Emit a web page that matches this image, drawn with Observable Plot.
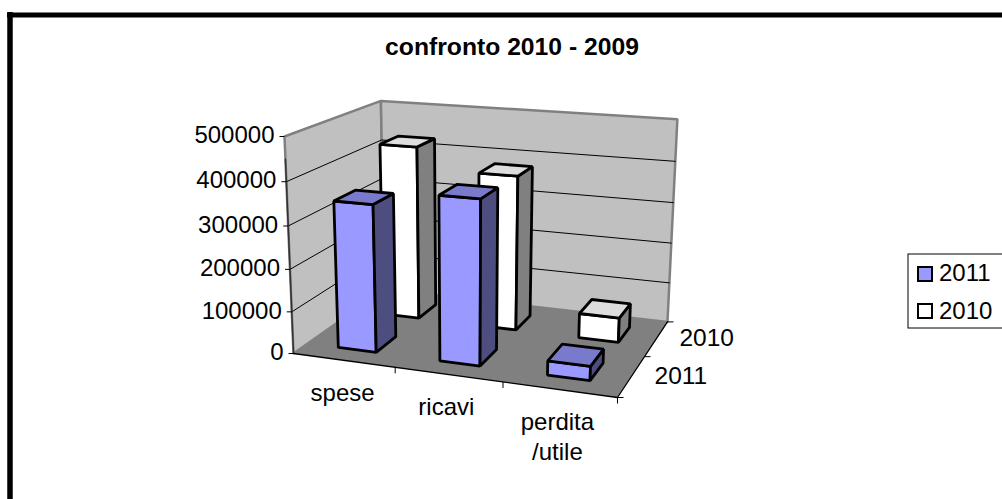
<!DOCTYPE html>
<html><head><meta charset="utf-8">
<script src="https://cdn.jsdelivr.net/npm/d3@7"></script>
<script src="https://cdn.jsdelivr.net/npm/@observablehq/plot@0.6"></script>
<style>html,body{margin:0;padding:0;background:#fff}svg{display:block}</style>
</head><body><div id="chart"></div>
<script>
const title = "confronto 2010 - 2009";
const categories = ["spese", "ricavi", "perdita\n/utile"];
const series = ["2011", "2010"];
const values2011 = [347000, 381000, 33000];
const values2010 = [428000, 377000, 60000];
const valueTicks = [0, 100000, 200000, 300000, 400000, 500000];
const valueMax = 500000;

// Oblique camera: (u,v,w) in 0..1 → page position
const O=[293,353],U=[617,397],V=[384,289],W=[284,136];
const p=-0.085,q=0.16,r=-0.05;
function cam(u,v,w){
  const d=1+p*u+q*v+r*w;
  const f=k=>(O[k]+u*(U[k]*(1+p)-O[k])+v*(V[k]*(1+q)-O[k])+w*(W[k]*(1+r)-O[k]))/d;
  return {x:f(0),y:f(1)};
}
const poly=(pts)=>pts.map(a=>cam(...a));
const face=(pts,o)=>Plot.line(poly(pts),{x:"x",y:"y",curve:"linear-closed",strokeLinejoin:"miter",...o});
const FONT="Liberation Sans";

const marks=[];
// frame
marks.push(Plot.ruleX([9.5],{y1:12,y2:499,stroke:"#000",strokeWidth:5.5}));
marks.push(Plot.ruleY([14.5],{x1:7,x2:1002,stroke:"#000",strokeWidth:5}));
// walls & floor
const wall={fill:"#c0c0c0",stroke:"#808080",strokeWidth:2.5};
marks.push(face([[0,0,0],[0,1,0],[0,1,1],[0,0,1]],wall));
marks.push(face([[0,1,0],[1,1,0],[1,1,1],[0,1,1]],wall));
for(const t of valueTicks.slice(1,-1)){
  const w=t/valueMax;
  marks.push(Plot.line(poly([[0,0,w],[0,1,w],[1,1,w]]),{x:"x",y:"y",stroke:"#000",strokeWidth:1}));
}
marks.push(face([[0,0,0],[1,0,0],[1,1,0],[0,1,0]],{fill:"#808080"}));
// axes
marks.push(Plot.line(poly([[0,0,0],[0,0,.9]]),{x:"x",y:"y",stroke:"#333",strokeWidth:1.5}));
marks.push(Plot.line(poly([[0,0,0],[1,0,0],[1,1,0]]),{x:"x",y:"y",stroke:"#000",strokeWidth:1.3}));
const vt=valueTicks.map(t=>({t,...cam(0,0,t/valueMax)}));
marks.push(Plot.link(vt,{x1:"x",y1:"y",x2:d=>d.x-5,y2:"y",stroke:"#000",strokeWidth:1}));
marks.push(Plot.text(vt,{x:d=>d.x-10,y:d=>d.y-1,text:d=>String(d.t),textAnchor:"end",fontSize:24,fontFamily:FONT,fill:"#000"}));
const ct=categories.map((c,i)=>cam((i+1)/3,0,0));
marks.push(Plot.link(ct,{x1:"x",y1:"y",x2:"x",y2:d=>d.y+6,stroke:"#000",strokeWidth:1}));
const dt=[0,.5,1].map(v=>cam(1,v,0));
marks.push(Plot.link(dt,{x1:"x",y1:"y",x2:d=>d.x+6,y2:"y",stroke:"#000",strokeWidth:1}));
// bars
const BW=.38,BD=.44;
const colors=[{f:"#9999ff",t:"#7a7acc",s:"#4d4d80"},{f:"#ffffff",t:"#dddddd",s:"#808080"}];
const rows=[values2011,values2010];
[1,0].forEach(row=>{
  rows[row].forEach((val,i)=>{
    const u0=(i+.5-BW/2)/3,u1=(i+.5+BW/2)/3,v0=(row+.5-BD/2)/2,v1=(row+.5+BD/2)/2,w=val/valueMax;
    const st={stroke:"#000",strokeWidth:2.8};
    marks.push(face([[u0,v0,0],[u1,v0,0],[u1,v0,w],[u0,v0,w]],{fill:colors[row].f,...st}));
    marks.push(face([[u1,v0,0],[u1,v1,0],[u1,v1,w],[u1,v0,w]],{fill:colors[row].s,...st}));
    marks.push(face([[u0,v0,w],[u1,v0,w],[u1,v1,w],[u0,v1,w]],{fill:colors[row].t,...st}));
  });
});
// category labels
const catDx=[-1,-2,-2];
const cl=categories.map((c,i)=>{const a=cam((i+.5)/3,0,0);return {c,x:a.x+catDx[i],y:a.y+19};});
marks.push(Plot.text(cl,{x:"x",y:"y",text:"c",textAnchor:"middle",lineAnchor:"top",lineHeight:1.25,fontSize:24,fontFamily:FONT,fill:"#000"}));
// depth labels
const sl=series.map((s,i)=>{const a=cam(1,(i+.5)/2,0);return {s,x:a.x+23,y:a.y};});
marks.push(Plot.text(sl,{x:"x",y:"y",text:"s",textAnchor:"start",fontSize:24.5,fontFamily:FONT,fill:"#000"}));
// title
marks.push(Plot.text([title],{x:()=>511.5,y:()=>47,text:d=>d,textAnchor:"middle",fontSize:24.7,fontWeight:"bold",fontFamily:FONT,fill:"#000"}));
// legend
marks.push(Plot.rect([0],{x1:()=>908,x2:()=>1005,y1:()=>254,y2:()=>328,fill:"#fff",stroke:"#000",strokeWidth:1}));
const lg=series.map((s,i)=>({s,i}));
marks.push(Plot.rect(lg,{x1:()=>918,x2:()=>932,y1:d=>267+d.i*37,y2:d=>281+d.i*37,fill:d=>colors[d.i].f,stroke:"#000",strokeWidth:2}));
marks.push(Plot.text(lg,{x:()=>938.5,y:d=>273+d.i*37.5,text:"s",textAnchor:"start",fontSize:24,fontFamily:FONT,fill:"#000"}));

document.getElementById("chart").append(Plot.plot({
  width:1002,height:499,margin:0,
  x:{domain:[0,1002],range:[0,1002],axis:null},
  y:{domain:[0,499],range:[0,499],axis:null},
  marks
}));
</script></body></html>
